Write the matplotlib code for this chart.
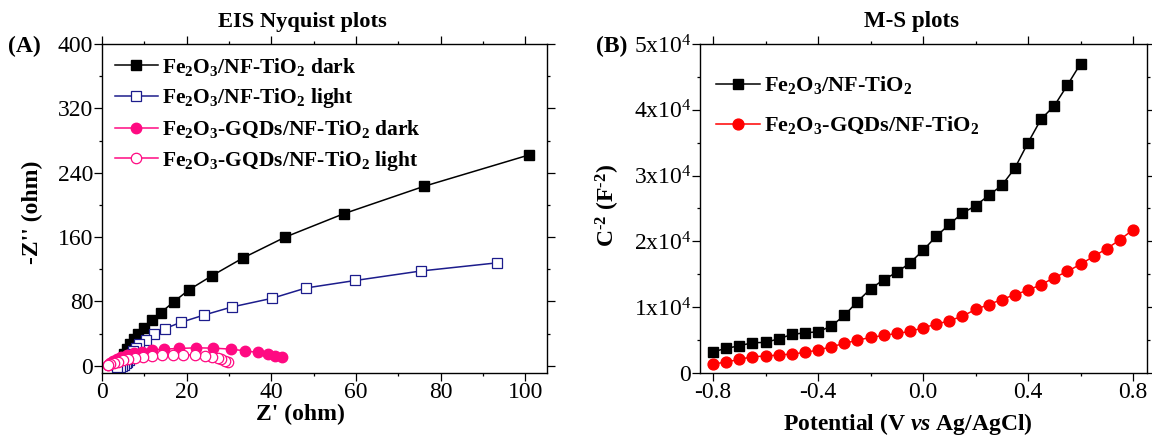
import matplotlib.pyplot as plt
from matplotlib.ticker import MultipleLocator, FixedLocator, FixedFormatter

plt.rcParams["font.family"] = ["Liberation Serif", "DejaVu Serif"]
plt.rcParams["mathtext.fontset"] = "custom"
plt.rcParams["mathtext.rm"] = "Liberation Serif"
plt.rcParams["mathtext.it"] = "Liberation Serif:italic:bold"
plt.rcParams["mathtext.bf"] = "Liberation Serif:bold"

# ---- (A) EIS Nyquist data ----
dark_x = [100.8, 76.0, 57.1, 43.3, 33.3, 26.0, 20.6, 16.9, 13.9, 11.8, 10.0,
          8.6, 7.5, 6.6, 5.9, 5.3, 4.9, 4.5]
dark_y = [262, 223, 189, 160, 134, 112, 94.6, 79.3, 66, 56.6, 47.5,
          40, 33, 27, 21, 15, 10, 5]
light_x = [93.4, 75.3, 59.8, 48.2, 40.2, 30.7, 24.2, 18.7, 14.9, 12.2, 10.4,
           8.8, 8.0, 7.4, 7.0, 6.6, 6.3, 6.0, 5.6, 5.2, 4.7, 4.2, 3.6]
light_y = [128, 117.8, 106, 96.7, 83.9, 73.1, 63.2, 54.1, 46.3, 39.7, 32.6,
           26.9, 22, 18, 14, 10.5, 7.5, 5, 3, 1.2, 0, -1, -1.5]
gq_dark_x = [42.4, 40.8, 39.2, 36.9, 33.7, 30.4, 26.3, 22.2, 18.2, 14.7, 11.8,
             9.4, 7.5, 5.9, 4.5, 3.5, 2.6, 2.0, 1.4]
gq_dark_y = [11.2, 12.4, 14.5, 16.5, 18.6, 20.7, 21.9, 22.3, 21.5, 20.7, 19.4,
             17.4, 15.3, 13.2, 11.2, 8.7, 5.8, 2.9, 0.8]
gq_light_x = [29.8, 29.0, 28.2, 27.3, 26.0, 24.3, 22.0, 19.2, 16.7, 14.1, 11.8,
              9.6, 7.7, 6.1, 4.9, 3.8, 2.8, 2.0, 1.4]
gq_light_y = [4.1, 6.2, 8.3, 9.9, 11.2, 12.4, 13.2, 13.6, 13.6, 13.2, 12.4,
              11.2, 9.9, 8.3, 6.6, 5.0, 3.3, 1.7, 0.4]

# ---- (B) Mott-Schottky data ----
pot_fe = [-0.80, -0.75, -0.70, -0.65, -0.60, -0.55, -0.50, -0.45, -0.40, -0.35,
          -0.30, -0.25, -0.20, -0.15, -0.10, -0.05, 0.00, 0.05, 0.10, 0.15,
          0.20, 0.25, 0.30, 0.35, 0.40, 0.45, 0.50, 0.55, 0.60]
c2_fe = [3230, 3740, 4140, 4600, 4650, 5200, 5860, 6110, 6260, 7120,
         8740, 10860, 12780, 14190, 15300, 16720, 18640, 20760, 22580, 24300,
         25400, 27000, 28500, 31150, 35000, 38600, 40600, 43750, 47000]
pot_gq = [-0.80, -0.75, -0.70, -0.65, -0.60, -0.55, -0.50, -0.45, -0.40, -0.35,
          -0.30, -0.25, -0.20, -0.15, -0.10, -0.05, 0.00, 0.05, 0.10, 0.15,
          0.20, 0.25, 0.30, 0.35, 0.40, 0.45, 0.50, 0.55, 0.60, 0.65,
          0.70, 0.75, 0.80]
c2_gq = [1360, 1670, 2070, 2470, 2580, 2730, 2880, 3130, 3480, 3990,
         4490, 5000, 5400, 5710, 6010, 6310, 6870, 7420, 7930, 8640,
         9650, 10400, 11160, 11920, 12580, 13430, 14490, 15450, 16520, 17730,
         18890, 20250, 21770]

y_ticks_b = [0, 10000, 20000, 30000, 40000, 50000]
y_labels_b = ["0", r"1x10$^{4}$", r"2x10$^{4}$", r"3x10$^{4}$",
              r"4x10$^{4}$", r"5x10$^{4}$"]

NAVY = "#1c1c8c"
PINK = "#ff0a82"

fig = plt.figure(figsize=(11.52, 4.36), dpi=100)
ax1 = fig.add_axes([0.0885, 0.1445, 0.386, 0.7546])
ax2 = fig.add_axes([0.6076, 0.1445, 0.388, 0.7546])

tick_fs = 17
lab_fs = 17

# Panel A
ax1.plot(dark_x, dark_y, "-s", color="black", lw=1.1, ms=7.2,
         label=r"Fe$_\mathbf{2}$O$_\mathbf{3}$/NF-TiO$_\mathbf{2}$ dark")
ax1.plot(light_x, light_y, "-s", color=NAVY, lw=1.1, ms=7.2,
         markerfacecolor="white", markeredgewidth=0.9,
         label=r"Fe$_\mathbf{2}$O$_\mathbf{3}$/NF-TiO$_\mathbf{2}$ light")
ax1.plot(gq_dark_x, gq_dark_y, "-o", color=PINK, lw=1.1, ms=7.5,
         label=r"Fe$_\mathbf{2}$O$_\mathbf{3}$-GQDs/NF-TiO$_\mathbf{2}$ dark")
ax1.plot(gq_light_x, gq_light_y, "-o", color=PINK, lw=1.1, ms=7.5,
         markerfacecolor="white", markeredgewidth=0.9,
         label=r"Fe$_\mathbf{2}$O$_\mathbf{3}$-GQDs/NF-TiO$_\mathbf{2}$ light")
ax1.set_xlim(0, 105)
ax1.set_ylim(-9, 400)
ax1.xaxis.set_major_locator(MultipleLocator(20))
ax1.xaxis.set_minor_locator(MultipleLocator(10))
ax1.yaxis.set_major_locator(MultipleLocator(80))
ax1.yaxis.set_minor_locator(MultipleLocator(40))
ax1.legend(loc="upper left", bbox_to_anchor=(-0.005, 1.01), frameon=False,
           prop={"size": 15.5, "weight": "bold"}, handlelength=2.0,
           handletextpad=0.2, labelspacing=0.4, borderaxespad=0.3)

# Panel B
ax2.plot(pot_fe, c2_fe, "-s", color="black", lw=1.1, ms=7.2,
         label=r"Fe$_\mathbf{2}$O$_\mathbf{3}$/NF-TiO$_\mathbf{2}$")
ax2.plot(pot_gq, c2_gq, "-o", color="#ff0000", lw=1.1, ms=7.8,
         label=r"Fe$_\mathbf{2}$O$_\mathbf{3}$-GQDs/NF-TiO$_\mathbf{2}$")
ax2.set_xlim(-0.85, 0.853)
ax2.set_ylim(0, 50000)
ax2.xaxis.set_major_locator(MultipleLocator(0.4))
ax2.xaxis.set_minor_locator(MultipleLocator(0.2))
ax2.xaxis.set_major_formatter(plt.FuncFormatter(lambda v, p: f"{v:.1f}"))
ax2.yaxis.set_major_locator(FixedLocator(y_ticks_b))
ax2.yaxis.set_major_formatter(FixedFormatter(y_labels_b))
ax2.yaxis.set_minor_locator(MultipleLocator(5000))
ax2.legend(loc="upper left", bbox_to_anchor=(0.0, 0.955), frameon=False,
           prop={"size": 16, "weight": "bold"}, handlelength=2.0,
           handletextpad=0.2, labelspacing=0.85, borderaxespad=0.3)

for ax in (ax1, ax2):
    ax.tick_params(which="both", direction="out", top=True, right=True,
                   labeltop=False, labelright=False, width=0.9)
    ax.tick_params(which="major", length=5.5, labelsize=tick_fs, pad=0.8)
    ax.tick_params(which="minor", length=2.5)
    for s in ax.spines.values():
        s.set_linewidth(1.0)

# Titles, panel letters and axis labels
fig.text(302 / 1152, 1 - 22 / 436, "EIS Nyquist plots", ha="center",
         va="center", fontsize=16.2, fontweight="bold")
fig.text(912 / 1152, 1 - 22 / 436, "M-S plots", ha="center",
         va="center", fontsize=16.5, fontweight="bold")
fig.text(8 / 1152, 1 - 46 / 436, "(A)", ha="left", va="center",
         fontsize=lab_fs, fontweight="bold")
fig.text(596 / 1152, 1 - 46 / 436, "(B)", ha="left", va="center",
         fontsize=lab_fs, fontweight="bold")
fig.text(300 / 1152, 1 - 414 / 436, "Z' (ohm)", ha="center", va="center",
         fontsize=lab_fs, fontweight="bold")
fig.text(908 / 1152, 1 - 424 / 436, r"Potential (V $\mathit{vs}$ Ag/AgCl)",
         ha="center", va="center", fontsize=lab_fs, fontweight="bold")
fig.text(32 / 1152, 1 - 212 / 436, "-Z'' (ohm)", ha="center", va="center",
         rotation=90, fontsize=lab_fs, fontweight="bold")
fig.text(608 / 1152, 1 - 205 / 436,
         "C$^\\mathbf{\u2010 2}$ (F$^\\mathbf{\u2010 2}$)", ha="center",
         va="center", rotation=90, fontsize=lab_fs, fontweight="bold")

fig.savefig("out.png", dpi=100)
